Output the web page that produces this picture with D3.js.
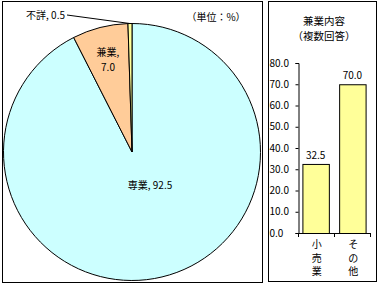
<!DOCTYPE html>
<html>
<head>
<meta charset="utf-8">
<script src="https://cdn.jsdelivr.net/npm/d3@7"></script>
<style>
body { margin: 0; background: #fff; }
text { font-family: "Noto Sans CJK JP", sans-serif; font-size: 10px; fill: #000; }
</style>
</head>
<body>
<svg id="svg" width="379" height="286"></svg>
<script>
const pieLabels = ['専業', '兼業', '不詳'];
const pieValues = [92.5, 7.0, 0.5];
const pieColors = ['#CCFFFF', '#FFCC99', '#FFFF99'];

const barCategories = ['小売業', 'その他'];
const barValues = [32.5, 70.0];
const yTicks = [0, 10, 20, 30, 40, 50, 60, 70, 80];

const svg = d3.select('#svg');

// frames
svg.append('rect').attr('x', 2.5).attr('y', 1.5).attr('width', 260).attr('height', 281)
	.attr('fill', 'none').attr('stroke', '#000');
svg.append('rect').attr('x', 268.5).attr('y', 1.5).attr('width', 108).attr('height', 280)
	.attr('fill', 'none').attr('stroke', '#000');

drawPie();
drawBars();

function drawPie() {
	const cx = 132, cy = 152, r = 128.5;
	const pie = d3.pie().sort(null).value(d => d);
	const arcs = pie(pieValues);
	const arc = d3.arc().innerRadius(0).outerRadius(r);
	const g = svg.append('g').attr('transform', `translate(${cx},${cy})`);

	g.selectAll('path')
		.data(arcs)
		.enter()
		.append('path')
		.attr('d', arc)
		.attr('fill', (d, i) => pieColors[i])
		.attr('stroke', '#000')
		.attr('stroke-width', 1);

	// 専業
	g.append('text').attr('x', 18).attr('y', 37).attr('text-anchor', 'middle')
		.text(pieLabels[0] + ', ' + pieValues[0].toFixed(1));
	// 兼業
	g.append('text').attr('x', -24).attr('y', -96).attr('text-anchor', 'middle')
		.text(pieLabels[1] + ',');
	g.append('text').attr('x', -24).attr('y', -81).attr('text-anchor', 'middle')
		.text(pieValues[1].toFixed(1));
	// 不詳 with leader
	const mid = (arcs[2].startAngle + arcs[2].endAngle) / 2;
	const px = Math.sin(mid) * r, py = -Math.cos(mid) * r;
	g.append('path')
		.attr('d', `M${px},${py}L${-65},${-137}`)
		.attr('fill', 'none').attr('stroke', '#000');
	g.append('text').attr('x', -67).attr('y', -133).attr('text-anchor', 'end')
		.text(pieLabels[2] + ', ' + pieValues[2].toFixed(1));

	svg.append('text').attr('x', 216).attr('y', 21).attr('text-anchor', 'middle').text('（単位：%）');
}

function drawBars() {
	const left = 298, right = 370, top = 63, bottom = 233;

	svg.append('text').attr('x', 324).attr('y', 25).attr('text-anchor', 'middle')
		.style('font-size', '10.5px').text('兼業内容');
	svg.append('text').attr('x', 324).attr('y', 40).attr('text-anchor', 'middle')
		.style('font-size', '10.5px').text('（複数回答）');

	const x = d3.scaleBand().domain(barCategories).range([left, right]).paddingInner(0.28).paddingOuter(0.12);
	const y = d3.scaleLinear().domain([0, 80]).range([bottom, top]);

	const yAxis = d3.axisLeft(y).tickValues(yTicks).tickFormat(d3.format('.1f')).tickSize(3).tickPadding(10);
	const ga = svg.append('g').attr('transform', `translate(${left + 0.5},0)`).call(yAxis);
	ga.select('.domain').attr('stroke', '#000');
	ga.selectAll('.tick line').attr('stroke', '#000');
	ga.selectAll('.tick text').attr('text-anchor', 'start').attr('x', -29);

	svg.append('g')
		.selectAll('rect')
		.data(barValues)
		.enter()
		.append('rect')
		.attr('x', (d, i) => x(barCategories[i]) + 0.5)
		.attr('y', d => y(d) + 0.5)
		.attr('width', x.bandwidth())
		.attr('height', d => bottom - y(d))
		.attr('fill', '#FFFF99')
		.attr('stroke', '#000');

	svg.append('g')
		.selectAll('text')
		.data(barValues)
		.enter()
		.append('text')
		.attr('x', (d, i) => x(barCategories[i]) + x.bandwidth() / 2)
		.attr('y', d => y(d) - 5)
		.attr('text-anchor', 'middle')
		.text(d => d.toFixed(1));

	// x axis line with ticks between categories
	const xb = svg.append('g');
	xb.append('line').attr('x1', left).attr('x2', right + 0.5).attr('y1', bottom + 0.5).attr('y2', bottom + 0.5).attr('stroke', '#000');
	[left + 0.5, (left + right) / 2 + 0.5, right + 0.5].forEach(t => {
		xb.append('line').attr('x1', t).attr('x2', t).attr('y1', bottom).attr('y2', bottom + 4).attr('stroke', '#000');
	});

	// vertical category labels
	barCategories.forEach(c => {
		const cxp = x(c) + x.bandwidth() / 2 + 1;
		Array.from(c).forEach((ch, j) => {
			svg.append('text').attr('x', cxp).attr('y', 248 + j * 13.5)
				.attr('text-anchor', 'middle').text(ch);
		});
	});
}
</script>
</body>
</html>
